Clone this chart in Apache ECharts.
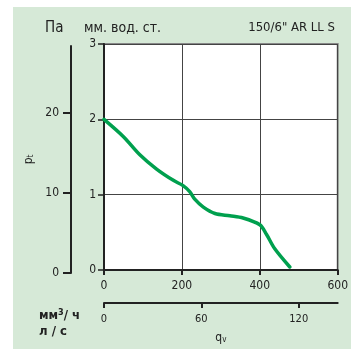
<!DOCTYPE html>
<html>
<head>
<meta charset="utf-8">
<script src="https://cdn.jsdelivr.net/npm/echarts@6/dist/echarts.min.js"></script>
<style>
  html, body { margin: 0; padding: 0; background: #fff; }
  #chart { width: 351px; height: 349px; }
</style>
</head>
<body>
<div id="chart"></div>
<script>
// кривая вентилятора: расход (м3/ч) и давление (мм вод. ст.)
const flowM3h = [0, 50, 92, 135, 178, 203, 220, 233, 255, 285, 323, 357, 400, 417, 438, 477];
const pressMm = [2.0, 1.77, 1.53, 1.34, 1.19, 1.12, 1.04, 0.94, 0.835, 0.75, 0.72, 0.69, 0.60, 0.475, 0.285, 0.04];

const mmTicks = [0, 1, 2, 3];
const paTicks = [0, 10, 20];
const lsTicks = [0, 60, 120];

const FONT = "'Liberation Sans Narrow', 'DejaVu Sans Condensed', sans-serif";
const TXT = "#222";

const chart = echarts.init(document.getElementById("chart"));

chart.setOption({
  animation: false,
  textStyle: { fontFamily: FONT, color: TXT },
  graphic: [
    {
      type: "rect",
      z: -10,
      shape: { x: 13, y: 7, width: 338, height: 342 },
      style: { fill: "#d6e9d7" }
    }
  ],
  title: [
    { text: "Па", left: 40, top: 16, textStyle: { fontFamily: FONT, fontSize: 15, fontWeight: "normal", color: TXT } },
    { text: "мм. вод. ст.", left: 79, top: 16, textStyle: { fontFamily: FONT, fontSize: 14, fontWeight: "normal", color: TXT } },
    { text: "150/6\" AR LL S", right: 11, top: 16, textStyle: { fontFamily: FONT, fontSize: 13, fontWeight: "normal", color: TXT } },
    { text: "мм{s|3}/ ч\nл / с", left: 34, top: 303,
      textStyle: {
        fontFamily: FONT, fontSize: 13, fontWeight: "bold", color: TXT, lineHeight: 16,
        rich: { s: { fontSize: 9, fontWeight: "bold", verticalAlign: "top", color: TXT, fontFamily: FONT } }
      } }
  ],
  grid: [
    { left: 104, top: 44, right: 13, bottom: 73, show: true, backgroundColor: "#fff", borderColor: "#888", borderWidth: 2 },
    { left: 71, top: 46, width: 1, bottom: 76 }
  ],
  xAxis: [
    {
      type: "value", gridIndex: 0, min: 0, max: 600, interval: 200,
      axisLine: { lineStyle: { color: "#222", width: 2 } },
      axisTick: { show: true, length: 5, lineStyle: { color: "#222", width: 2 } },
      axisLabel: { fontFamily: FONT, fontSize: 12, color: TXT, margin: 10 },
      splitLine: { lineStyle: { color: "#444", width: 1 } }
    },
    {
      type: "value", gridIndex: 0, position: "bottom", offset: 33, min: 0, max: 144,
      axisLine: { onZero: false, lineStyle: { color: "#222", width: 2 } },
      axisTick: { show: true, length: 5, customValues: lsTicks, lineStyle: { color: "#222", width: 2 } },
      axisLabel: { customValues: lsTicks, fontFamily: FONT, fontSize: 11, color: TXT, margin: 11 },
      splitLine: { show: false },
      name: "q{s|v}", nameLocation: "middle", nameGap: 29,
      nameTextStyle: { fontFamily: FONT, fontSize: 12, color: TXT,
        rich: { s: { fontSize: 8, verticalAlign: "bottom", color: TXT, fontFamily: FONT } } }
    },
    { type: "value", gridIndex: 1, show: false, min: 0, max: 1 }
  ],
  yAxis: [
    {
      type: "value", gridIndex: 0, min: 0, max: 3, interval: 1,
      axisLine: { show: true, lineStyle: { color: "#222", width: 2 } },
      axisTick: { show: true, length: 6, customValues: mmTicks, lineStyle: { color: "#222", width: 1.5 } },
      axisLabel: { customValues: mmTicks, fontFamily: FONT, fontSize: 12, color: TXT, margin: 8 },
      splitLine: { lineStyle: { color: "#444", width: 1 } }
    },
    {
      type: "value", gridIndex: 1, min: 0, max: 28.375,
      axisLine: { show: true, onZero: false, lineStyle: { color: "#222", width: 2 } },
      axisTick: { show: true, length: 8, customValues: paTicks, lineStyle: { color: "#222", width: 2 } },
      axisLabel: { customValues: paTicks, fontFamily: FONT, fontSize: 12, color: TXT, margin: 12 },
      splitLine: { show: false },
      name: "p{s|t}", nameLocation: "middle", nameGap: 36, nameRotate: 90,
      nameTextStyle: { fontFamily: FONT, fontSize: 12, color: TXT,
        rich: { s: { fontSize: 8, verticalAlign: "bottom", color: TXT, fontFamily: FONT } } }
    }
  ],
  series: [
    {
      type: "line",
      xAxisIndex: 0,
      yAxisIndex: 0,
      data: flowM3h.map((q, i) => [q, pressMm[i]]),
      smooth: 0.3,
      showSymbol: false,
      lineStyle: { color: "#00a04e", width: 3.5, cap: "round" }
    }
  ]
});
</script>
</body>
</html>
